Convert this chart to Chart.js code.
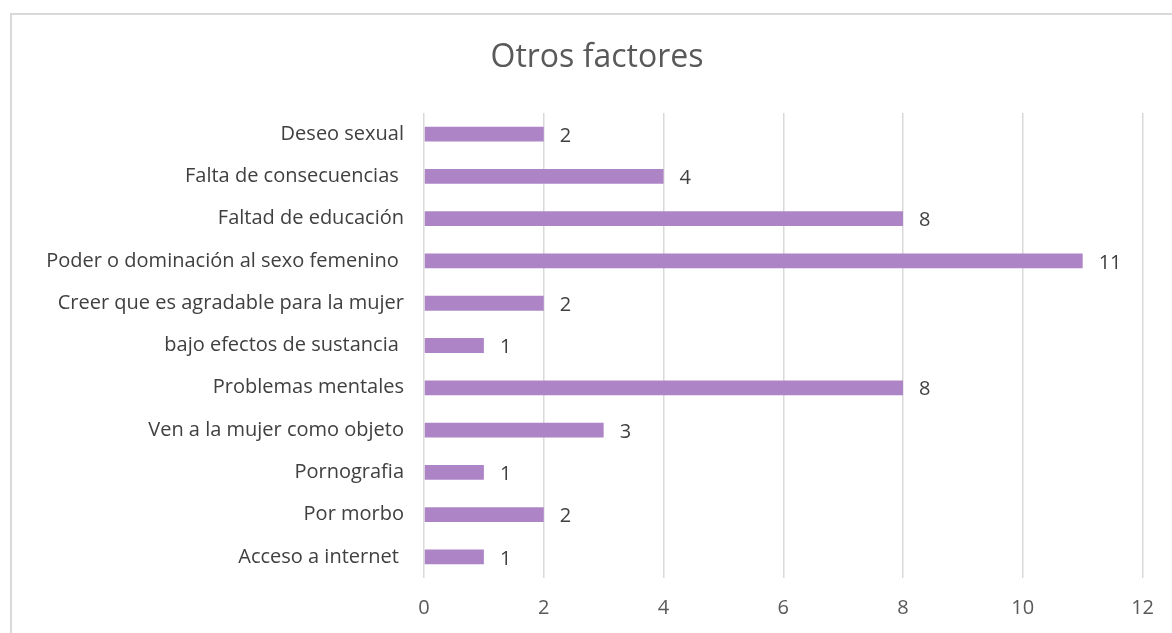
<!DOCTYPE html>
<html>
<head>
<meta charset="utf-8">
<script src="https://cdn.jsdelivr.net/npm/chart.js@4"></script>
<style>
  body { margin: 0; background: #fff; overflow: hidden; }
  #wrap { position: relative; width: 1172px; height: 633px; }
  #frame { position: absolute; left: 10px; top: 13px; width: 1300px; height: 800px; border: 2px solid #d9d9d9; box-sizing: border-box; }
  canvas { position: absolute; left: 0; top: 0; }
</style>
</head>
<body>
<div id="wrap">
  <div id="frame"></div>
  <canvas id="bar-chart" width="1172" height="633"></canvas>
</div>
<script>
const chartTitle = "Otros factores";
const categories = [
    "Deseo sexual",
    "Falta de consecuencias ",
    "Faltad de educación",
    "Poder o dominación al sexo femenino ",
    "Creer que es agradable para la mujer",
    "bajo efectos de sustancia ",
    "Problemas mentales",
    "Ven a la mujer como objeto",
    "Pornografia",
    "Por morbo",
    "Acceso a internet "
];
const values = [2, 4, 8, 11, 2, 1, 8, 3, 1, 2, 1];
const xTicks = [0, 2, 4, 6, 8, 10, 12];

const fontFamily = "'Open Sans', sans-serif";

// title sits a bit right of the canvas centre, like the original
const titleText = {
    id: "titleText",
    afterDraw(chart) {
        const ctx = chart.ctx;
        ctx.save();
        ctx.font = "32px " + fontFamily;
        ctx.fillStyle = "#595959";
        ctx.textAlign = "center";
        ctx.textBaseline = "middle";
        ctx.fillText(chartTitle, 597, 58);
        ctx.restore();
    }
};

// draws the number next to each bar end
const valueLabels = {
    id: "valueLabels",
    afterDatasetsDraw(chart) {
        const ctx = chart.ctx;
        const meta = chart.getDatasetMeta(0);
        ctx.save();
        ctx.font = "20px " + fontFamily;
        ctx.fillStyle = "#404040";
        ctx.textAlign = "left";
        ctx.textBaseline = "middle";
        meta.data.forEach((bar, i) => {
            ctx.fillText(String(values[i]), bar.x + 16, bar.y + 2);
        });
        ctx.restore();
    }
};

new Chart(document.getElementById("bar-chart"), {
    type: "bar",
    data: {
        labels: categories,
        datasets: [{
            data: values,
            backgroundColor: "#ad84c6",
            borderWidth: 0,
            barPercentage: 0.7,
            categoryPercentage: 0.5
        }]
    },
    options: {
        indexAxis: "y",
        responsive: false,
        animation: false,
        layout: { padding: { left: 0, right: 29, top: 113, bottom: 0 } },
        plugins: {
            legend: { display: false },
            tooltip: { enabled: false },
            title: { display: false }
        },
        scales: {
            x: {
                min: 0,
                max: 12,
                afterBuildTicks: (scale) => { scale.ticks = xTicks.map(v => ({ value: v })); },
                afterFit: (scale) => { scale.height = 55; },
                border: { display: false },
                grid: { color: "#d9d9d9", lineWidth: 1.5, drawTicks: false },
                ticks: {
                    color: "#595959",
                    padding: 18,
                    font: { family: fontFamily, size: 20 }
                }
            },
            y: {
                afterFit: (scale) => { scale.width = 424; },
                border: { display: false },
                grid: { display: false, drawTicks: false },
                ticks: {
                    color: "#404040",
                    padding: 20,
                    font: { family: fontFamily, size: 20 }
                }
            }
        }
    },
    plugins: [valueLabels, titleText]
});
</script>
</body>
</html>
